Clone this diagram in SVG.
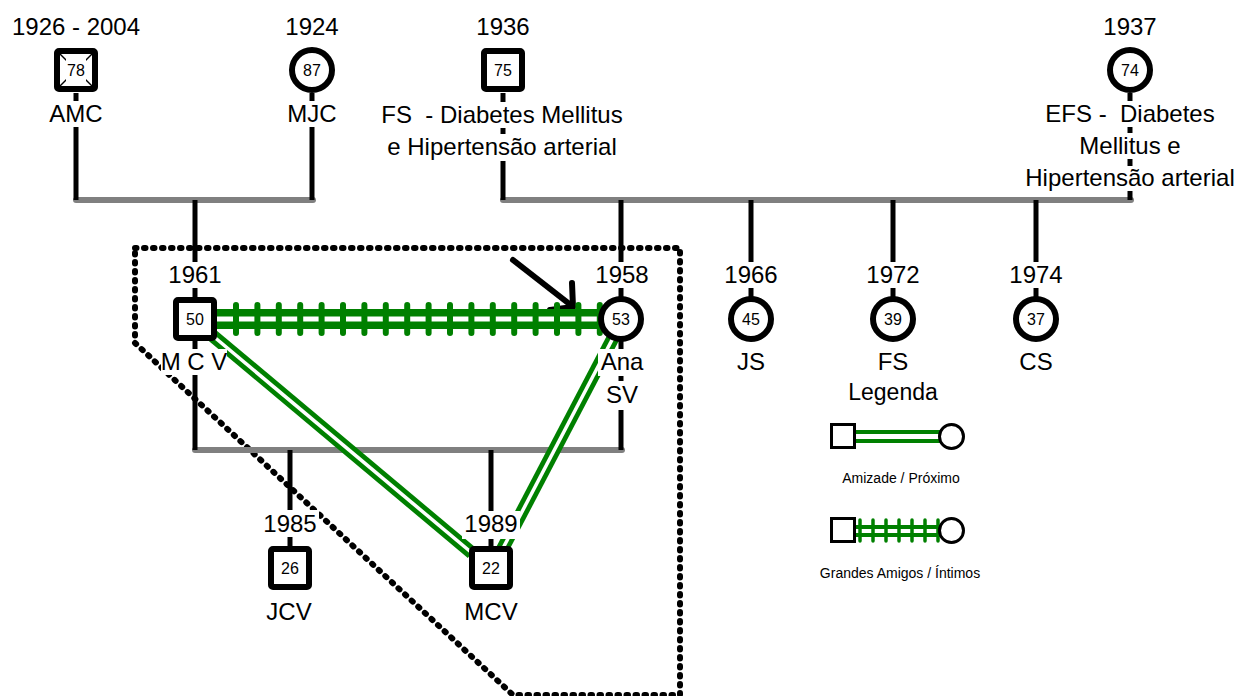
<svg xmlns="http://www.w3.org/2000/svg" width="1245" height="696" viewBox="0 0 1245 696">
<style>
.t{font-family:"Liberation Sans",Arial,sans-serif;fill:#000;text-anchor:middle}
.big{font-size:24px}
.num{font-size:16px}
.sm{font-size:14px}
.bg{fill:#fff;stroke:none}
.sq{fill:#fff;stroke:#000;stroke-width:6}
.ci{fill:#fff;stroke:#000;stroke-width:6}
.v{stroke:#000;stroke-width:5;fill:none}
.g{stroke:#808080;stroke-width:6;stroke-linecap:round;fill:none}
.gl{stroke:#008000;stroke-width:13;fill:none}
.gw{stroke:#fff;stroke-width:3.5;fill:none}
.tick{stroke:#008000;stroke-width:6;stroke-linecap:round}
.lsq{fill:#fff;stroke:#000;stroke-width:3}
</style>
<rect width="1245" height="696" fill="#fff"/>
<g id="frame">
<path d="M135,248 H680 V695 H513 L135,343 Z" fill="none" stroke="#000" stroke-width="6" stroke-dasharray="1.5 7.5" stroke-linecap="round" stroke-linejoin="round"/>
</g>
<g id="connectors">
<line class="g" x1="76" y1="200" x2="313" y2="200"/>
<line class="g" x1="503" y1="200" x2="1131" y2="200"/>
<line class="g" x1="195" y1="450" x2="622" y2="450"/>
<line class="v" x1="76" y1="93" x2="76" y2="200"/>
<line class="v" x1="312" y1="93" x2="312" y2="200"/>
<line class="v" x1="503" y1="93" x2="503" y2="200"/>
<line class="v" x1="1130" y1="93" x2="1130" y2="200"/>
<line class="v" x1="195" y1="200" x2="195" y2="300"/>
<line class="v" x1="195" y1="340" x2="195" y2="450"/>
<line class="v" x1="621" y1="200" x2="621" y2="297"/>
<line class="v" x1="621" y1="341" x2="621" y2="450"/>
<line class="v" x1="751" y1="200" x2="751" y2="297"/>
<line class="v" x1="893" y1="200" x2="893" y2="297"/>
<line class="v" x1="1036" y1="200" x2="1036" y2="297"/>
<line class="v" x1="290" y1="450" x2="290" y2="547"/>
<line class="v" x1="491" y1="450" x2="491" y2="547"/>
<g id="arrow" stroke="#000" stroke-width="6" stroke-linecap="round" stroke-linejoin="round" fill="none">
<line x1="513" y1="260" x2="572" y2="306"/>
<polyline points="572,283 573,307 550,310"/>
</g>
<g id="link-strong">
<line x1="215" y1="319" x2="600" y2="319" stroke="#008000" stroke-width="20"/>
<line x1="215" y1="319" x2="600" y2="319" stroke="#fff" stroke-width="5"/>
<line class="tick" x1="236" y1="305" x2="236" y2="333"/>
<line class="tick" x1="257.4" y1="305" x2="257.4" y2="333"/>
<line class="tick" x1="278.8" y1="305" x2="278.8" y2="333"/>
<line class="tick" x1="300.2" y1="305" x2="300.2" y2="333"/>
<line class="tick" x1="321.6" y1="305" x2="321.6" y2="333"/>
<line class="tick" x1="343" y1="305" x2="343" y2="333"/>
<line class="tick" x1="364.4" y1="305" x2="364.4" y2="333"/>
<line class="tick" x1="385.8" y1="305" x2="385.8" y2="333"/>
<line class="tick" x1="407.2" y1="305" x2="407.2" y2="333"/>
<line class="tick" x1="428.6" y1="305" x2="428.6" y2="333"/>
<line class="tick" x1="450" y1="305" x2="450" y2="333"/>
<line class="tick" x1="471.4" y1="305" x2="471.4" y2="333"/>
<line class="tick" x1="492.8" y1="305" x2="492.8" y2="333"/>
<line class="tick" x1="514.2" y1="305" x2="514.2" y2="333"/>
<line class="tick" x1="535.6" y1="305" x2="535.6" y2="333"/>
<line class="tick" x1="557" y1="305" x2="557" y2="333"/>
<line class="tick" x1="578.4" y1="305" x2="578.4" y2="333"/>
<line class="tick" x1="599.8" y1="305" x2="599.8" y2="333"/>
</g>
<g id="link-mcv-mcv">
<line class="gl" x1="213" y1="336" x2="472" y2="553"/>
<line class="gw" x1="213" y1="336" x2="472" y2="553"/>
</g>
<g id="link-ana-mcv">
<line class="gl" x1="613" y1="338" x2="502" y2="550"/>
<line class="gw" x1="613" y1="338" x2="502" y2="550"/>
</g>
</g>
<g id="node-amc">
<rect class="sq" x="57" y="51" width="38" height="38" rx="2"/>
<line x1="60" y1="54" x2="92" y2="86" stroke="#000" stroke-width="1.5"/>
<line x1="92" y1="54" x2="60" y2="86" stroke="#000" stroke-width="1.5"/>
<rect class="bg" x="66" y="59" width="20" height="22"/>
<text class="t num" x="76" y="76">78</text>
<text class="t big" x="76" y="35">1926 - 2004</text>
<rect class="bg" x="48" y="101" width="56" height="26"/>
<text class="t big" x="76" y="122">AMC</text>
</g>
<g id="node-mjc">
<circle class="ci" cx="312" cy="70" r="20"/>
<text class="t num" x="312" y="76">87</text>
<text class="t big" x="312" y="35">1924</text>
<rect class="bg" x="286" y="101" width="52" height="26"/>
<text class="t big" x="312" y="122">MJC</text>
</g>
<g id="node-fs-father">
<rect class="sq" x="484" y="51" width="38" height="38" rx="2"/>
<text class="t num" x="503" y="76">75</text>
<text class="t big" x="503" y="35">1936</text>
<rect class="bg" x="380" y="102" width="246" height="26"/>
<text class="t big" x="502" y="123">FS&#160; - Diabetes Mellitus</text>
<rect class="bg" x="384" y="134" width="236" height="27"/>
<text class="t big" x="502" y="155">e Hipertensão arterial</text>
</g>
<g id="node-efs">
<circle class="ci" cx="1130" cy="70" r="20"/>
<text class="t num" x="1130" y="76">74</text>
<text class="t big" x="1130" y="35">1937</text>
<rect class="bg" x="1043" y="101" width="174" height="26"/>
<text class="t big" x="1130" y="122">EFS - &#160;Diabetes</text>
<rect class="bg" x="1078" y="133" width="106" height="26"/>
<text class="t big" x="1130" y="154">Mellitus e</text>
<rect class="bg" x="1022" y="166" width="216" height="25"/>
<text class="t big" x="1130" y="186">Hipertensão arterial</text>
</g>
<g id="node-mcv-father">
<rect class="sq" x="176" y="300" width="38" height="38" rx="2"/>
<text class="t num" x="195" y="325">50</text>
<rect class="bg" x="166" y="262" width="58" height="26"/>
<text class="t big" x="195" y="283">1961</text>
<rect class="bg" x="161" y="349" width="66" height="26"/>
<text class="t big" x="194" y="370">M C V</text>
</g>
<g id="node-ana">
<circle class="ci" cx="621" cy="319" r="20"/>
<text class="t num" x="621" y="325">53</text>
<rect class="bg" x="593" y="262" width="57" height="26"/>
<text class="t big" x="622" y="283">1958</text>
<rect class="bg" x="598" y="349" width="48" height="27"/>
<text class="t big" x="622" y="370">Ana</text>
<rect class="bg" x="603" y="381" width="38" height="29"/>
<text class="t big" x="622" y="403">SV</text>
</g>
<g id="node-js">
<circle class="ci" cx="751" cy="319" r="20"/>
<text class="t num" x="751" y="325">45</text>
<rect class="bg" x="722" y="262" width="58" height="26"/>
<text class="t big" x="751" y="283">1966</text>
<text class="t big" x="751" y="370">JS</text>
</g>
<g id="node-fs">
<circle class="ci" cx="893" cy="319" r="20"/>
<text class="t num" x="893" y="325">39</text>
<rect class="bg" x="864" y="262" width="58" height="26"/>
<text class="t big" x="893" y="283">1972</text>
<text class="t big" x="893" y="370">FS</text>
</g>
<g id="node-cs">
<circle class="ci" cx="1036" cy="319" r="20"/>
<text class="t num" x="1036" y="325">37</text>
<rect class="bg" x="1007" y="262" width="58" height="26"/>
<text class="t big" x="1036" y="283">1974</text>
<text class="t big" x="1036" y="370">CS</text>
</g>
<g id="node-jcv">
<rect class="sq" x="271" y="549" width="38" height="38" rx="2"/>
<text class="t num" x="290" y="574">26</text>
<rect class="bg" x="261" y="510" width="58" height="27"/>
<text class="t big" x="290" y="532">1985</text>
<text class="t big" x="289" y="620">JCV</text>
</g>
<g id="node-mcv">
<rect class="sq" x="472" y="549" width="38" height="38" rx="2"/>
<text class="t num" x="491" y="574">22</text>
<rect class="bg" x="462" y="511" width="58" height="28"/>
<text class="t big" x="491" y="532">1989</text>
<text class="t big" x="491" y="620">MCV</text>
</g>
<g id="legend">
<text class="t" x="893" y="400" font-size="23">Legenda</text>
<line x1="856" y1="436.5" x2="940" y2="436.5" stroke="#008000" stroke-width="13"/>
<line x1="856" y1="436.5" x2="940" y2="436.5" stroke="#fff" stroke-width="5"/>
<rect class="lsq" x="831.5" y="424.5" width="23" height="23"/>
<circle class="lsq" cx="951.5" cy="436.5" r="12"/>
<text class="t sm" x="901" y="483">Amizade / Próximo</text>
<line x1="856" y1="531" x2="940" y2="531" stroke="#008000" stroke-width="12"/>
<line x1="856" y1="531" x2="940" y2="531" stroke="#fff" stroke-width="4"/>
<g stroke="#008000" stroke-width="3.5" stroke-linecap="round">
<line x1="860" y1="520" x2="860" y2="541"/>
<line x1="873" y1="520" x2="873" y2="541"/>
<line x1="886" y1="520" x2="886" y2="541"/>
<line x1="899" y1="520" x2="899" y2="541"/>
<line x1="912" y1="520" x2="912" y2="541"/>
<line x1="925" y1="520" x2="925" y2="541"/>
<line x1="938" y1="520" x2="938" y2="541"/>
</g>
<rect class="lsq" x="831.5" y="518.5" width="23" height="23"/>
<circle class="lsq" cx="951.5" cy="530.5" r="12"/>
<text class="t sm" x="900" y="578">Grandes Amigos / Íntimos</text>
</g>
</svg>
